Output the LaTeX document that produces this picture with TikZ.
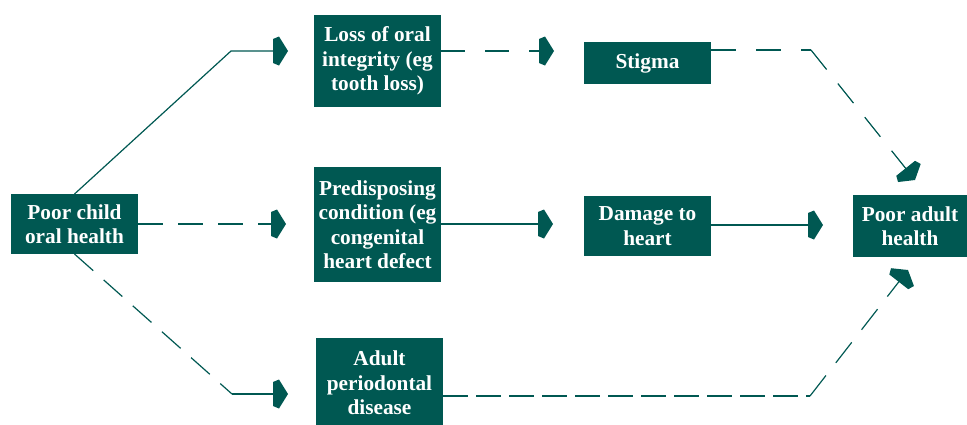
\documentclass[tikz,border=0pt]{standalone}
\usepackage{fontspec}
\setmainfont{Liberation Serif}
\usetikzlibrary{arrows.meta}
\definecolor{teal0}{RGB}{0,88,82}
\pgfdeclarearrow{
  name = House,
  setup code = {
    \pgfarrowssettipend{0pt}
    \pgfarrowssetlineend{-10pt}
    \pgfarrowssetbackend{-15pt}
    \pgfarrowshullpoint{0pt}{0pt}
    \pgfarrowshullpoint{-15pt}{15pt}
    \pgfarrowshullpoint{-15pt}{-15pt}
  },
  drawing code = {
    \pgfpathmoveto{\pgfpointorigin}
    \pgfpathlineto{\pgfpoint{-9pt}{14.5pt}}
    \pgfpathlineto{\pgfpoint{-15pt}{12pt}}
    \pgfpathlineto{\pgfpoint{-15pt}{-12pt}}
    \pgfpathlineto{\pgfpoint{-9pt}{-14.5pt}}
    \pgfpathclose
    \pgfusepathqfill
  },
}
\begin{document}
\begin{tikzpicture}[x=1pt,y=-1pt,
  box/.style={fill=teal0, text=white, font=\fontsize{21.3}{24.5}\selectfont\bfseries,
    align=center, inner sep=0pt, outer sep=0pt},
  link/.style={draw=teal0, line width=1.2pt},
  tipped/.style={-House},
]
\useasboundingbox (0,0) rectangle (967,424);
% boxes
\node[box, minimum width=127pt, minimum height=60pt] (child) at (74.5,224) {Poor child\\oral health};
\node[box, minimum width=127pt, minimum height=92pt] (loss) at (377.5,61) {Loss of oral\\integrity (eg\\tooth loss)};
\node[box, minimum width=127pt, minimum height=42pt] (stigma) at (647.5,63) {Stigma};
\node[box, minimum width=127pt, minimum height=115pt] (pred) at (377.5,224.5) {Predisposing\\condition (eg\\congenital\\heart defect};
\node[box, minimum width=127pt, minimum height=60pt] (damage) at (647.5,226) {Damage to\\heart};
\node[box, minimum width=114pt, minimum height=62pt] (adult) at (910,226) {Poor adult\\health};
\node[box, minimum width=127pt, minimum height=90pt] (perio) at (379.5,383) {Adult\\periodontal\\disease};
% coordinates
\coordinate (c1) at (231,51);
\coordinate (t1) at (288,51);
\coordinate (t2) at (286,224);
\coordinate (c3) at (232,394);
\coordinate (t3) at (288,394);
\coordinate (t4) at (554,51);
\coordinate (t5) at (553,224);
\coordinate (t6) at (823,225);
\coordinate (c7) at (811,50);
\coordinate (t7) at (915,180);
\coordinate (c8) at (810,396);
\coordinate (t8) at (908,270);
% connectors
\draw[link, tipped] (child.north) -- (c1) -- (t1);
\draw[link, tipped, dash pattern=on 25pt off 15pt] (child.east) -- (t2);
\draw[link, dash pattern=on 25pt off 14pt] (child.south) -- (c3);
\draw[link, tipped] (c3) -- (t3);
\draw[link, tipped, dash pattern=on 24pt off 20pt] (loss.east |- t4) -- (t4);
\draw[link, tipped] (pred.east |- t5) -- (t5);
\draw[link, tipped] (damage.east |- t6) -- (t6);
\draw[link, dash pattern=on 25pt off 20pt] (stigma.east |- c7) -- (c7);
\draw[link, tipped, dash pattern=on 25pt off 18pt] (c7) -- (t7);
\draw[link, dash pattern=on 25pt off 8pt] (perio.east |- c8) -- (c8);
\draw[link, tipped, dash pattern=on 26pt off 16pt] (c8) -- (t8);
\end{tikzpicture}
\end{document}
